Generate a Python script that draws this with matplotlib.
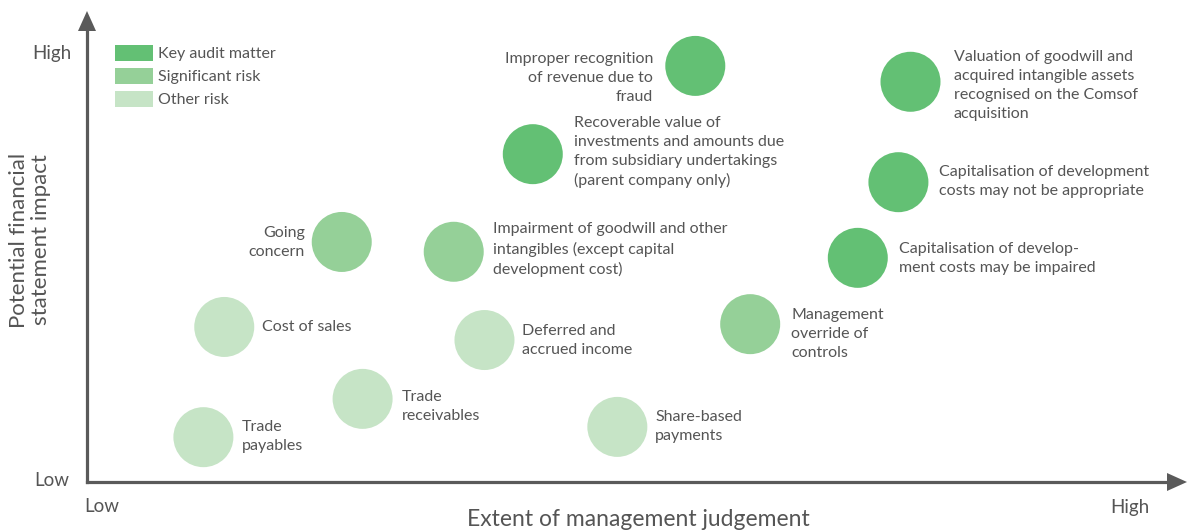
import numpy as np
import matplotlib.pyplot as plt
from matplotlib.patches import Patch

# risk items: extent of judgement (x) vs financial statement impact (y), 0-100 scale
labels = [
    "Improper recognition\nof revenue due to\nfraud",
    "Valuation of goodwill and\nacquired intangible assets\nrecognised on the Comsof\nacquisition",
    "Recoverable value of\ninvestments and amounts due\nfrom subsidiary undertakings\n(parent company only)",
    "Capitalisation of development\ncosts may not be appropriate",
    "Going\nconcern",
    "Impairment of goodwill and other\nintangibles (except capital\ndevelopment cost)",
    "Capitalisation of develop-\nment costs may be impaired",
    "Cost of sales",
    "Deferred and\naccrued income",
    "Management\noverride of\ncontrols",
    "Trade\nreceivables",
    "Trade\npayables",
    "Share-based\npayments",
]
judgement = [55.4, 75.0, 40.6, 73.9, 23.2, 33.4, 70.2, 12.5, 36.2, 60.4, 25.1, 10.6, 48.3]
impact = [89.1, 85.7, 70.2, 64.2, 51.4, 49.3, 48.0, 33.2, 30.4, 33.8, 17.8, 9.6, 11.8]
category = ["key", "key", "key", "key", "sig", "sig", "key", "other", "other", "sig", "other", "other", "other"]

categories = ["key", "sig", "other"]
category_names = ["Key audit matter", "Significant risk", "Other risk"]

# layout: label offset from bubble centre in pixels (dx, dy)
label_dx = [-42, 43, 41, 41, -37, 39, 41, 38, 38, 41, 39, 38, 38]
label_dy = [-12, -4, 2, 1, -1, 2, -1, 0, 0, -10, -8, 1, 0]

colors = {"key": "#63c074", "sig": "#95d098", "other": "#c6e4c6"}
text_color = "#555555"
axis_color = "#5a5a5a"

plt.rcParams['font.family'] = ['Lato', 'DejaVu Sans']

W, H = 1187, 531
fig = plt.figure(figsize=(W / 100, H / 100), dpi=100)
x0, x1, y0, y1 = 87, 1185, 482, 15
ax = fig.add_axes([x0 / W, (H - y0) / H, (x1 - x0) / W, (y0 - y1) / H])
ax.set_xlim(0, 100)
ax.set_ylim(0, 100)
ax.axis('off')

marker_d = 60 * 0.72
for xi, yi, c in zip(judgement, impact, category):
    ax.scatter(xi, yi, s=marker_d ** 2, color=colors[c], edgecolors='none', zorder=3)

for lab, xi, yi, dx, dy in zip(labels, judgement, impact, label_dx, label_dy):
    ha = 'right' if dx < 0 else 'left'
    ax.annotate(lab, (xi, yi), xytext=(dx, dy), textcoords='offset pixels',
                ha=ha, va='center', multialignment=ha, fontsize=11.5,
                color=text_color, linespacing=1.45)

# axes arrows: shafts plus triangular heads
fig.add_artist(plt.Line2D([x0 / W, x0 / W], [(H - y0) / H, (H - 28) / H], color=axis_color, lw=2.3))
fig.add_artist(plt.Line2D([x0 / W, 1172 / W], [(H - y0) / H, (H - y0) / H], color=axis_color, lw=2.3))
fig.add_artist(plt.Polygon([[78 / W, (H - 31) / H], [96 / W, (H - 31) / H], [87 / W, (H - 11) / H]],
                           closed=True, color=axis_color, lw=0))
fig.add_artist(plt.Polygon([[1167 / W, (H - 473) / H], [1167 / W, (H - 491) / H], [1187 / W, (H - 482) / H]],
                           closed=True, color=axis_color, lw=0))

# low / high markers
fs = 13.5
fig.text(72 / W, 1 - 53 / H, "High", ha='right', va='center', fontsize=fs, color=text_color)
fig.text(69 / W, 1 - 481 / H, "Low", ha='right', va='center', fontsize=fs, color=text_color)
fig.text(84 / W, 1 - 507 / H, "Low", ha='left', va='center', fontsize=fs, color=text_color)
fig.text(1130 / W, 1 - 507 / H, "High", ha='center', va='center', fontsize=fs, color=text_color)

fig.text(638 / W, 1 - 519 / H, "Extent of management judgement", ha='center', va='center',
         fontsize=16.5, color=text_color)
fig.text(30 / W, 1 - 240 / H, "Potential financial\nstatement impact", ha='center', va='center',
         rotation=90, fontsize=16, color=text_color, linespacing=1.15)

handles = [Patch(facecolor=colors[c], edgecolor='none') for c in categories]
leg = fig.legend(handles, category_names, loc='upper left', bbox_to_anchor=(115 / W, 1 - 45 / H),
                 frameon=False, fontsize=11.5, handlelength=2.4, handleheight=1.15,
                 handletextpad=0.3, labelspacing=0.42, borderpad=0, borderaxespad=0)
for t in leg.get_texts():
    t.set_color(text_color)

fig.savefig("out.png", dpi=100)
